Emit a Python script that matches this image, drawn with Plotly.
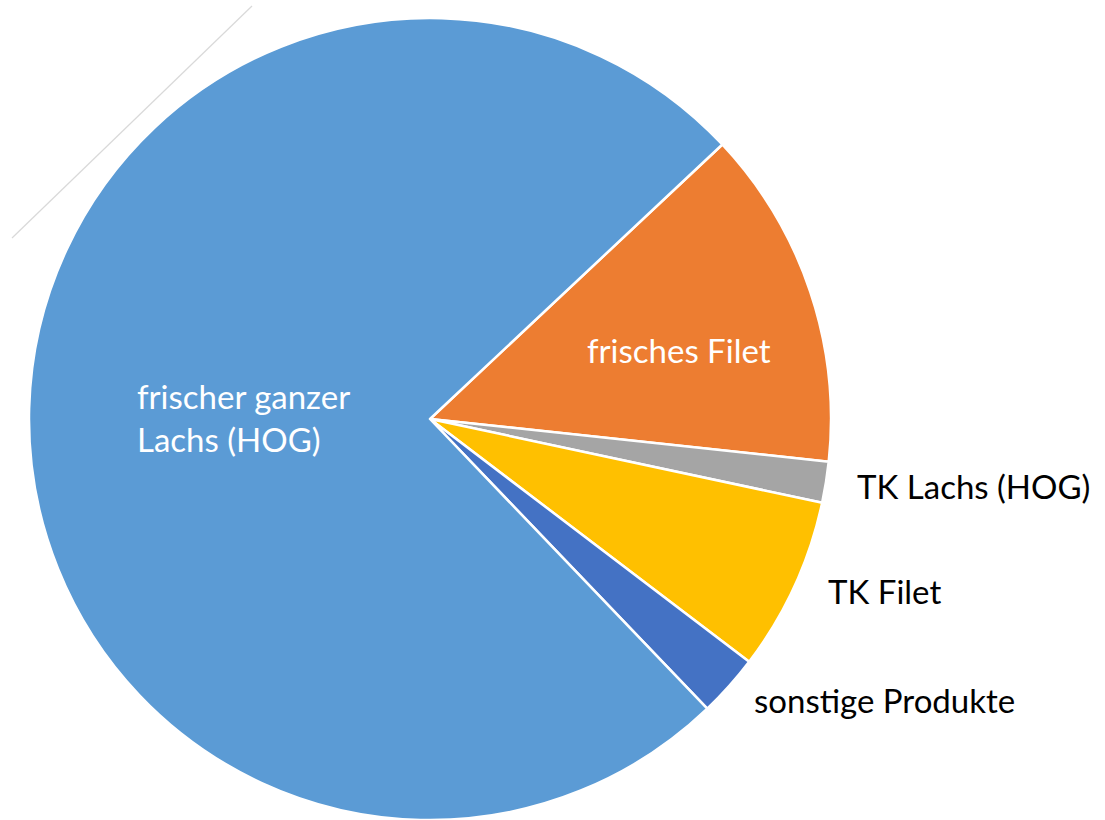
import plotly.graph_objects as go

# slices in clockwise order, starting at the blue/orange boundary
labels = ["frisches Filet", "TK Lachs (HOG)", "TK Filet", "sonstige Produkte", "frischer ganzer Lachs (HOG)"]
values = [13.7, 1.65, 7.0, 2.5, 75.15]
colors = ["#ED7D31", "#A5A5A5", "#FFC000", "#4472C4", "#5B9BD5"]

W, H = 1105, 820


def px(x, y):
    return x / W, 1 - y / H


fig = go.Figure()
fig.add_trace(go.Pie(
    labels=labels,
    values=values,
    sort=False,
    direction="clockwise",
    rotation=46.8,
    marker=dict(colors=colors, line=dict(color="white", width=2.5)),
    textinfo="none",
    hoverinfo="label+percent",
    showlegend=False,
    domain=dict(x=[28 / W, 832 / W], y=[0, 1 - 18 / H]),
))

font = "Lato, 'Open Sans', sans-serif"
annots = [
    ("frischer ganzer<br>Lachs (HOG)", 135, 417, "white"),
    ("frisches Filet", 585, 350, "white"),
    ("TK Lachs (HOG)", 855, 486, "black"),
    ("TK Filet", 826, 591, "black"),
    ("sonstige Produkte", 752, 700, "black"),
]
for text, x, y, col in annots:
    ax, ay = px(x, y)
    fig.add_annotation(
        text=text, x=ax, y=ay, xref="paper", yref="paper",
        xanchor="left", yanchor="middle", align="left",
        showarrow=False, font=dict(family=font, size=33, color=col),
    )

# thin stray line at top left
x0, y0 = px(12, 238)
x1, y1 = px(252, 6)
fig.add_shape(type="line", x0=x0, y0=y0, x1=x1, y1=y1, xref="paper", yref="paper",
              line=dict(color="#D9D9D9", width=1.2))

fig.update_layout(
    width=W, height=H,
    margin=dict(l=0, r=0, t=0, b=0),
    paper_bgcolor="white",
    plot_bgcolor="white",
)

fig.write_html("out.html", config={"displayModeBar": False},
               post_script="document.body.style.margin='0';")
